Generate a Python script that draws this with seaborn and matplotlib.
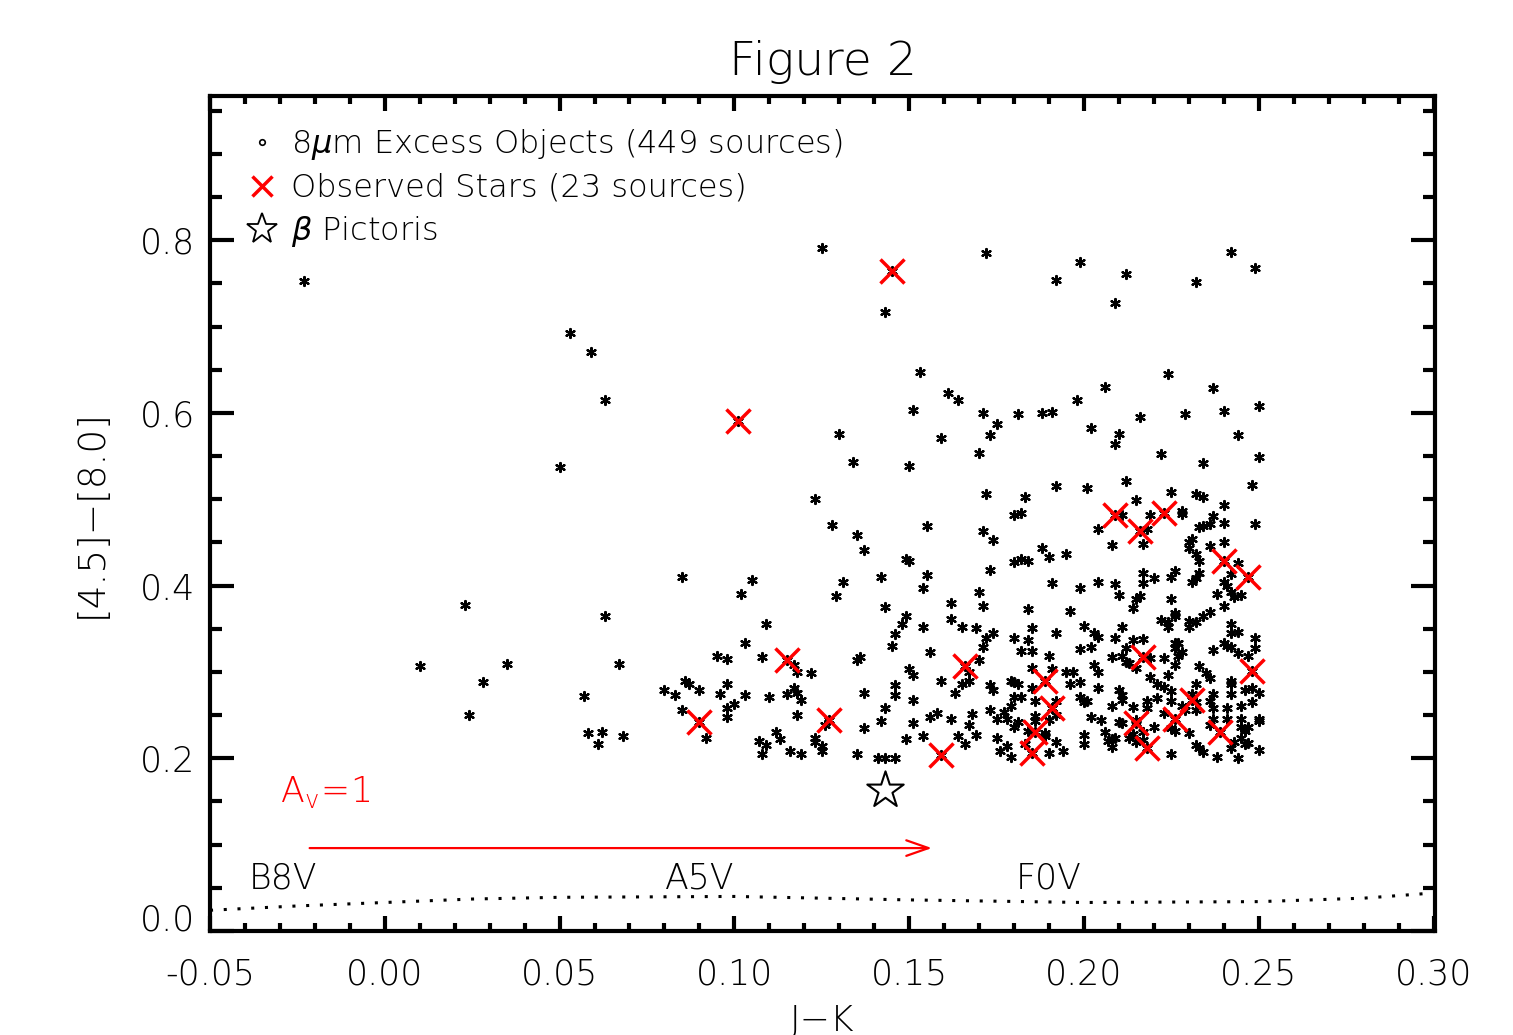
import numpy as np
import pandas as pd
import matplotlib
matplotlib.use("Agg")
import matplotlib.pyplot as plt
from matplotlib.lines import Line2D
from matplotlib.ticker import MultipleLocator, FormatStrFormatter
import seaborn as sns

# ---------------- data (J-K, [4.5]-[8.0]) ----------------
excess_left = [(-0.023,0.753),(0.053,0.693),(0.059,0.670),(0.063,0.615),(0.050,0.537),(0.085,0.410),(0.105,0.407),(0.102,0.390),(0.023,0.378),(0.063,0.365),(0.103,0.333),(0.095,0.319),(0.098,0.315),(0.010,0.307),(0.035,0.309),(0.067,0.309),(0.028,0.288),(0.086,0.290),(0.087,0.286),(0.080,0.279),(0.090,0.279),(0.098,0.286),(0.083,0.273),(0.096,0.274),(0.103,0.273),(0.057,0.272),(0.100,0.263),(0.098,0.258),(0.098,0.248),(0.085,0.256),(0.024,0.250),(0.058,0.229),(0.062,0.230),(0.061,0.217),(0.068,0.226),(0.092,0.224),(0.107,0.220)]

excess_mid_low = [(0.131,0.404),(0.142,0.410),(0.155,0.412),(0.129,0.388),(0.154,0.397),(0.143,0.375),(0.162,0.380),(0.109,0.356),(0.149,0.365),(0.148,0.355),(0.154,0.352),(0.162,0.361),(0.165,0.352),(0.146,0.344),(0.145,0.330),(0.156,0.323),(0.108,0.317),(0.117,0.308),(0.118,0.300),(0.122,0.299),(0.135,0.314),(0.136,0.317),(0.150,0.303),(0.151,0.296),(0.167,0.300),(0.159,0.290),(0.165,0.286),(0.167,0.289),(0.110,0.271),(0.115,0.275),(0.117,0.281),(0.118,0.276),(0.119,0.267),(0.137,0.276),(0.146,0.285),(0.146,0.273),(0.163,0.276),(0.151,0.267),(0.143,0.258),(0.118,0.250),(0.126,0.239),(0.142,0.243),(0.151,0.241),(0.156,0.248),(0.158,0.253),(0.162,0.245),(0.167,0.238),(0.137,0.235),(0.112,0.230),(0.113,0.222),(0.109,0.215),(0.123,0.224),(0.123,0.219),(0.125,0.214),(0.125,0.209),(0.149,0.222),(0.154,0.226),(0.164,0.226),(0.166,0.217),(0.108,0.205),(0.116,0.208),(0.119,0.205),(0.135,0.205),(0.141,0.200),(0.143,0.200),(0.146,0.200)]

excess_mid_high = [(0.125,0.791),(0.143,0.717),(0.153,0.647),(0.161,0.623),(0.164,0.615),(0.151,0.603),(0.130,0.575),(0.159,0.571),(0.134,0.543),(0.150,0.539),(0.123,0.500),(0.128,0.470),(0.155,0.469),(0.135,0.458),(0.137,0.441),(0.149,0.431),(0.150,0.428)]

excess_right_top = [(0.172,0.785),(0.192,0.754),(0.199,0.775),(0.209,0.727),(0.212,0.761),(0.232,0.751),(0.242,0.786),(0.249,0.768),
    (0.224,0.645),(0.206,0.630),(0.237,0.629),(0.171,0.600),(0.181,0.599),(0.188,0.600),(0.191,0.601),(0.198,0.615),(0.216,0.595),(0.229,0.599),(0.240,0.602),(0.250,0.608),(0.175,0.587),(0.173,0.574),(0.202,0.582),(0.210,0.575),(0.209,0.564),(0.244,0.574),(0.170,0.554),(0.222,0.552),(0.234,0.542),(0.250,0.549),(0.212,0.521),(0.192,0.515),(0.201,0.513),(0.248,0.516),(0.172,0.506),(0.183,0.502),(0.215,0.499),(0.225,0.508),(0.232,0.506),(0.234,0.502),(0.240,0.493),(0.180,0.482),(0.182,0.484),(0.211,0.482),(0.219,0.482),(0.228,0.486),(0.228,0.483),(0.237,0.480),(0.240,0.472),(0.249,0.471),(0.171,0.463),(0.204,0.466),(0.218,0.466),(0.233,0.468),(0.234,0.469),(0.236,0.471),(0.174,0.453),(0.217,0.448),(0.230,0.450),(0.231,0.454),(0.230,0.444),(0.240,0.451),(0.208,0.447),(0.188,0.444),(0.236,0.446),(0.190,0.433),(0.195,0.437),(0.180,0.427),(0.182,0.431),(0.184,0.428),(0.232,0.437),(0.233,0.428),(0.244,0.426),(0.173,0.418)]

excess_right_mid = [(0.191,0.403),(0.199,0.397),(0.204,0.404),(0.209,0.402),(0.210,0.389),(0.170,0.392),(0.171,0.376),(0.184,0.373),(0.196,0.371),(0.169,0.351),(0.174,0.345),(0.172,0.339),(0.180,0.339),(0.185,0.351),(0.184,0.337),(0.192,0.345),(0.200,0.353),(0.203,0.345),(0.204,0.340),(0.209,0.339),(0.171,0.329),(0.182,0.324),(0.185,0.324),(0.190,0.319),(0.199,0.327),(0.202,0.329),(0.208,0.317),(0.170,0.314),(0.185,0.304),(0.203,0.308),(0.191,0.303),
    (0.242,0.413),(0.217,0.414),(0.220,0.409),(0.217,0.403),(0.226,0.417),(0.225,0.410),(0.233,0.414),(0.232,0.409),(0.231,0.404),(0.240,0.404),(0.241,0.399),(0.242,0.393),(0.243,0.387),(0.245,0.389),(0.238,0.390),(0.215,0.385),(0.216,0.388),(0.225,0.384),(0.240,0.376),(0.214,0.374),(0.226,0.368),(0.226,0.365),(0.236,0.369),(0.234,0.365),(0.222,0.360),(0.224,0.358),(0.224,0.352),(0.230,0.359),(0.230,0.352),(0.232,0.358),(0.242,0.356),(0.211,0.352),(0.242,0.345),(0.244,0.346),(0.214,0.337),(0.217,0.338),(0.249,0.339),(0.226,0.333),(0.227,0.334),(0.226,0.328),(0.228,0.323),(0.227,0.318),(0.240,0.333),(0.241,0.330),(0.242,0.329),(0.237,0.325),(0.249,0.328),(0.212,0.328),(0.244,0.322),(0.247,0.318),(0.211,0.318),(0.219,0.316),(0.223,0.316),(0.212,0.312),(0.213,0.310),(0.226,0.308),(0.233,0.307)]

excess_right_low = [(0.195,0.300),(0.197,0.300),(0.204,0.300),(0.199,0.288),(0.196,0.286),(0.204,0.281),(0.210,0.279),(0.173,0.285),(0.174,0.279),(0.179,0.290),(0.180,0.288),(0.181,0.286),(0.185,0.281),(0.180,0.271),(0.182,0.271),(0.199,0.271),(0.200,0.265),(0.201,0.266),(0.186,0.266),(0.179,0.260),(0.208,0.261),(0.192,0.266),(0.192,0.250),(0.173,0.256),(0.177,0.254),(0.168,0.251),(0.175,0.245),(0.178,0.245),(0.186,0.249),(0.186,0.243),(0.181,0.242),(0.180,0.236),(0.190,0.244),(0.202,0.248),(0.205,0.244),(0.210,0.242),(0.184,0.232),(0.189,0.229),(0.189,0.226),(0.169,0.227),(0.175,0.224),(0.200,0.227),(0.200,0.217),(0.206,0.230),(0.208,0.222),(0.207,0.220),(0.208,0.213),(0.192,0.219),(0.183,0.216),(0.178,0.214),(0.176,0.209),(0.190,0.206),(0.194,0.208),(0.179,0.202),
    (0.215,0.304),(0.219,0.294),(0.224,0.296),(0.235,0.299),(0.236,0.293),(0.242,0.289),(0.242,0.286),(0.246,0.279),(0.248,0.281),(0.250,0.276),(0.221,0.286),(0.223,0.283),(0.225,0.278),(0.232,0.286),(0.237,0.274),(0.242,0.275),(0.211,0.273),(0.211,0.268),(0.221,0.270),(0.218,0.266),(0.218,0.258),(0.231,0.274),(0.225,0.266),(0.228,0.261),(0.229,0.256),(0.232,0.265),(0.232,0.256),(0.236,0.266),(0.237,0.258),(0.245,0.261),(0.248,0.265),(0.241,0.258),(0.214,0.259),(0.223,0.252),(0.237,0.246),(0.241,0.246),(0.245,0.246),(0.250,0.246),(0.250,0.243),(0.211,0.241),(0.215,0.244),(0.225,0.235),(0.226,0.232),(0.220,0.236),(0.236,0.238),(0.245,0.236),(0.246,0.232),(0.247,0.236),(0.214,0.228),(0.213,0.223),(0.217,0.230),(0.230,0.229),(0.243,0.219),(0.245,0.223),(0.246,0.217),(0.247,0.218),(0.209,0.223),(0.215,0.219),(0.217,0.221),(0.232,0.215),(0.233,0.212),(0.234,0.207),(0.242,0.212),(0.250,0.210),(0.225,0.205),(0.238,0.202),(0.244,0.200)]

observed_jk    = [0.145, 0.101, 0.209, 0.216, 0.223, 0.240, 0.247, 0.115, 0.166, 0.189, 0.217, 0.248,
                  0.090, 0.127, 0.159, 0.191, 0.186, 0.185, 0.215, 0.218, 0.226, 0.231, 0.239]
observed_color = [0.764, 0.590, 0.482, 0.463, 0.484, 0.428, 0.410, 0.314, 0.307, 0.290, 0.317, 0.301,
                  0.242, 0.244, 0.204, 0.258, 0.230, 0.206, 0.241, 0.212, 0.246, 0.268, 0.231]

beta_pic_jk = [0.143]
beta_pic_color = [0.163]

# main-sequence locus (dotted)
ms_jk    = [-0.05, -0.025, 0.0, 0.025, 0.05, 0.10, 0.15, 0.20, 0.25, 0.28, 0.30]
ms_color = [0.024, 0.029, 0.033, 0.037, 0.039, 0.040, 0.036, 0.033, 0.034, 0.038, 0.044]

sptype_labels = ["B8V", "A5V", "F0V"]
sptype_jk = [-0.029, 0.090, 0.190]
sptype_y = 0.049

av_start_jk, av_end_jk, av_y = -0.0215, 0.1565, 0.096

# ---------------- build frames ----------------
excess_pairs = (excess_left + excess_mid_low + excess_mid_high + excess_right_top
                + excess_right_mid + excess_right_low)
excess_df = pd.DataFrame(excess_pairs, columns=["jk", "c"])
excess_df = pd.concat([excess_df, pd.DataFrame({"jk": observed_jk, "c": observed_color})],
                      ignore_index=True)
obs_df = pd.DataFrame({"jk": observed_jk, "c": observed_color})
ms_df = pd.DataFrame({"jk": ms_jk, "c": ms_color})

# ---------------- style ----------------
sns.set_theme(style="white")
plt.rcParams["font.family"] = ["DejaVu Sans"]
plt.rcParams["font.weight"] = "light"
plt.rcParams["axes.labelweight"] = "light"
plt.rcParams["axes.titleweight"] = "light"
plt.rcParams["mathtext.default"] = "regular"
plt.rcParams["axes.unicode_minus"] = True
plt.rcParams["text.color"] = "black"
plt.rcParams["axes.labelcolor"] = "black"
plt.rcParams["xtick.color"] = "black"
plt.rcParams["ytick.color"] = "black"

fig = plt.figure(figsize=(15.13, 10.35), dpi=100)
ax = fig.add_axes([0.1388, 0.1005, 0.8096, 0.8068])

sns.lineplot(data=ms_df, x="jk", y="c", ax=ax, color="black", linewidth=2.2,
             linestyle=(0, (1, 3.5)), sort=False, estimator=None, zorder=1)
sns.scatterplot(data=excess_df, x="jk", y="c", ax=ax, marker=(6, 2, 0), s=42,
                color="black", linewidth=1.6, legend=False, zorder=2)
sns.scatterplot(data=obs_df, x="jk", y="c", ax=ax, marker="x", s=300,
                color="red", linewidth=2.5, legend=False, zorder=3)
sns.scatterplot(x=beta_pic_jk, y=beta_pic_color, ax=ax, marker="*", s=760,
                facecolor="white", edgecolor="black", linewidth=1.5, legend=False, zorder=4)

# reddening vector
ax.annotate("", xy=(av_end_jk, av_y), xytext=(av_start_jk, av_y),
            arrowprops=dict(arrowstyle="->,head_length=0.4,head_width=0.14",
                            color="red", lw=1.6, mutation_scale=40,
                            shrinkA=0, shrinkB=0))
ax.text(-0.030, 0.149, r"$\mathregular{A_v\!=\!1}$", color="red", fontsize=25,
        ha="left", va="baseline")

for lab, xx in zip(sptype_labels, sptype_jk):
    ax.text(xx, sptype_y, lab, fontsize=25, ha="center", va="baseline", color="black")

# axes limits / ticks
ax.set_xlim(-0.05, 0.3004)
ax.set_ylim(0.0, 0.967)
ax.xaxis.set_major_locator(MultipleLocator(0.05))
ax.xaxis.set_minor_locator(MultipleLocator(0.01))
ax.yaxis.set_major_locator(MultipleLocator(0.2))
ax.yaxis.set_minor_locator(MultipleLocator(0.05))
ax.xaxis.set_major_formatter(FormatStrFormatter("%.2f"))
ax.yaxis.set_major_formatter(FormatStrFormatter("%.1f"))
ax.set_yticks([0.0, 0.2, 0.4, 0.6, 0.8])

ax.tick_params(axis="both", which="both", direction="in", top=True, right=True,
               bottom=True, left=True, width=3, color="black", labelcolor="black")
ax.tick_params(axis="x", which="major", length=11, pad=19, labelsize=25)
ax.tick_params(axis="x", which="minor", length=5.5)
ax.tick_params(axis="y", which="major", length=17, pad=11, labelsize=25)
ax.tick_params(axis="y", which="minor", length=8.5)
for sp in ax.spines.values():
    sp.set_linewidth(3)
    sp.set_color("black")

for lbl in ax.get_yticklabels():
    if lbl.get_text() == "0.0":
        lbl.set_verticalalignment("baseline")

ax.set_xlabel("J\u2212K", fontsize=26, fontweight="light")
ax.set_ylabel("[4.5]\u2212[8.0]", fontsize=27, fontweight="light")
ax.xaxis.set_label_coords(0.5, -0.119)
ax.xaxis.label.set_va("baseline")
ax.yaxis.set_label_coords(-0.083, 0.5)
ax.set_title("Figure 2", fontsize=34, pad=15, fontweight="light", color="black")

handles = [
    Line2D([], [], marker="o", ls="none", ms=4, mfc="white", mec="black", mew=1.2),
    Line2D([], [], marker="x", ls="none", ms=15, mec="red", mew=2.5),
    Line2D([], [], marker="*", ls="none", ms=23, mfc="white", mec="black", mew=1.3),
]
labels = [r"8$\mathit{\mu}$m Excess Objects (449 sources)", "Observed Stars (23 sources)",
          r"$\mathit{\beta}$ Pictoris"]
ax.legend(handles, labels, loc="upper left", bbox_to_anchor=(0.019, 0.978),
          frameon=False, fontsize=23, handlelength=1.0, handletextpad=0.41,
          labelspacing=0.34, borderaxespad=0.0, borderpad=0.4)

fig.savefig("out.png", dpi=100, facecolor="white")
